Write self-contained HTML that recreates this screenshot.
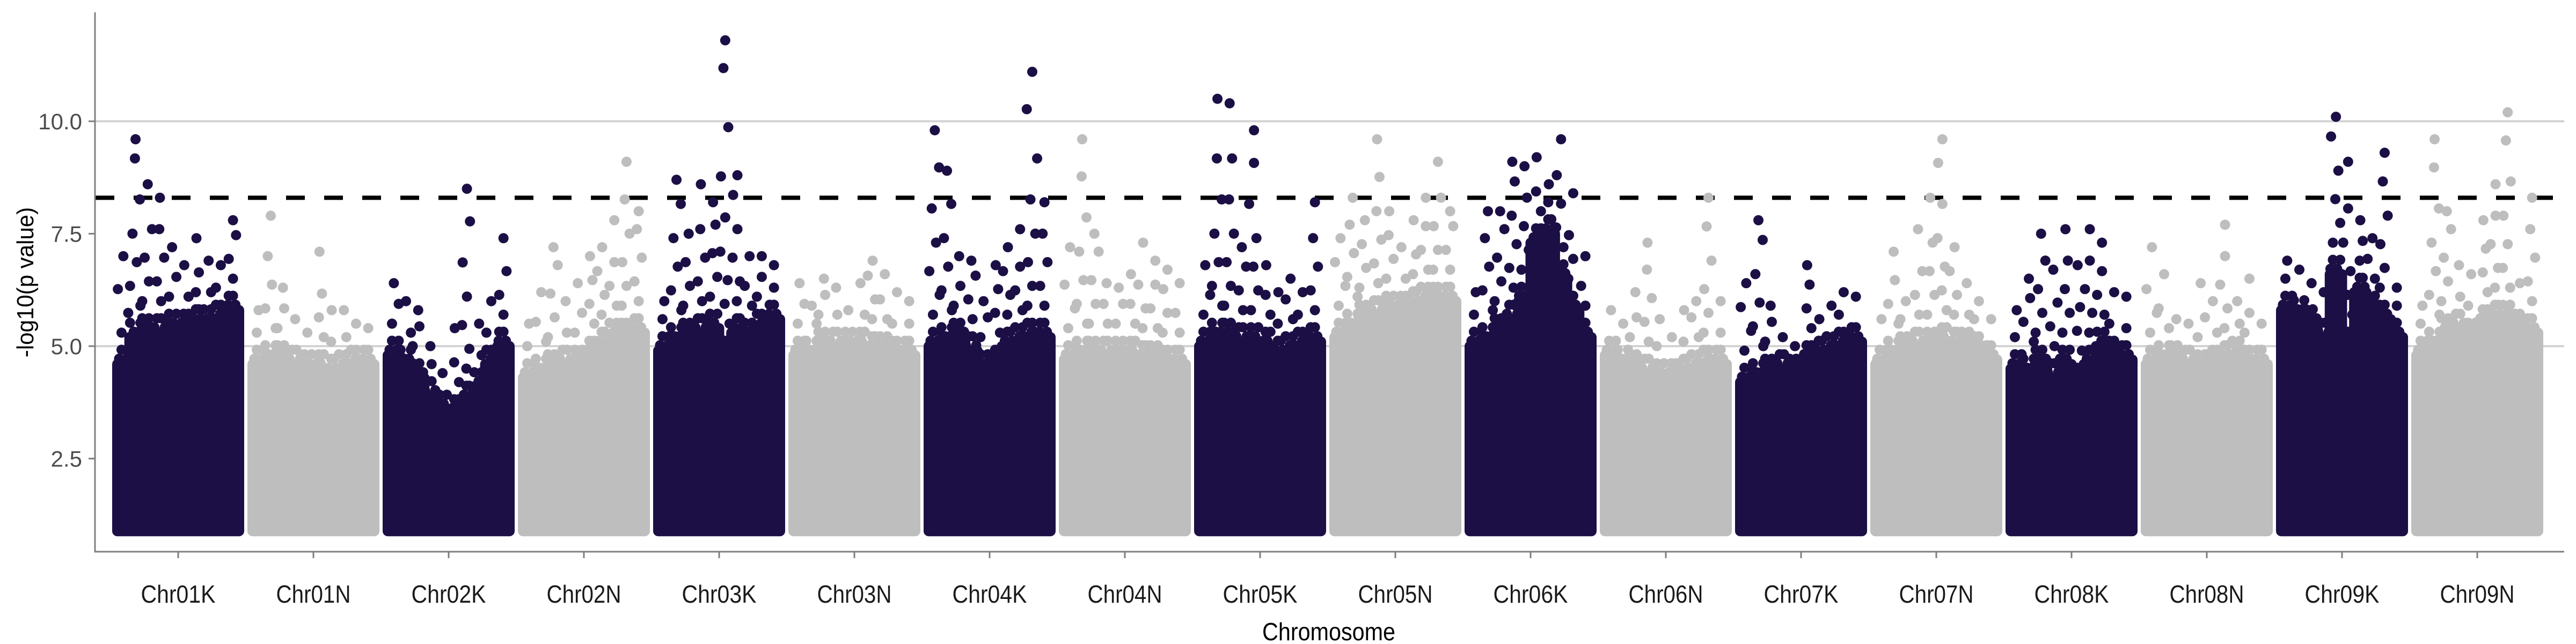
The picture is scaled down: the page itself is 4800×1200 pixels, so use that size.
<!DOCTYPE html>
<html>
<head>
<meta charset="utf-8">
<style>
html,body{margin:0;padding:0;background:#fff;}
svg{display:block;}
text{font-family:"Liberation Sans",Arial,sans-serif;}
</style>
</head>
<body>
<svg id="chart" width="4800" height="1200" viewBox="0 0 4800 1200" xmlns="http://www.w3.org/2000/svg">
  <g id="grid"></g>
  <line id="thr" x1="178" x2="4778" stroke="#000" stroke-width="8" stroke-dasharray="35 36"></line>
  <g id="points"></g>
  <g id="axes"></g>
  <text x="0" y="0" transform="translate(62,526) rotate(-90)" text-anchor="middle" font-size="44" fill="#000" textLength="280" lengthAdjust="spacingAndGlyphs">-log10(p value)</text>
  <text x="2476" y="1193" text-anchor="middle" font-size="46" fill="#000" textLength="248" lengthAdjust="spacingAndGlyphs">Chromosome</text>
</svg>
<script>
const chromosomes = ["Chr01K","Chr01N","Chr02K","Chr02N","Chr03K","Chr03N","Chr04K","Chr04N","Chr05K","Chr05N","Chr06K","Chr06N","Chr07K","Chr07N","Chr08K","Chr08N","Chr09K","Chr09N"];
const solidTop = [
 [4.6,5.2,5.3,5.3,5.4,5.4,5.5,5.5,5.6,5.8],
 [4.6,4.7,4.7,4.6,4.5,4.5,4.4,4.5,4.6,4.6],
 [4.8,4.6,4.3,3.9,3.6,3.5,3.8,4.1,4.6,5.0],
 [4.3,4.4,4.5,4.6,4.6,4.8,5.0,5.2,5.2,5.3],
 [4.9,5.1,5.2,5.3,5.4,4.8,5.3,5.2,5.4,5.6],
 [4.8,4.8,5.0,5.0,5.0,5.0,4.9,4.9,4.8,4.8],
 [5.0,5.1,5.2,4.9,4.5,4.6,5.0,5.1,5.2,5.2],
 [4.7,4.8,4.8,4.8,4.8,4.8,4.7,4.7,4.6,4.6],
 [5.0,5.2,5.2,5.1,5.1,5.0,4.8,4.9,5.0,5.1],
 [5.2,5.4,5.6,5.7,5.8,5.8,5.9,6.0,6.0,6.0],
 [5.0,5.1,5.3,5.6,6.0,7.3,7.5,6.5,5.8,5.2],
 [4.8,4.6,4.5,4.4,4.3,4.3,4.4,4.5,4.6,4.6],
 [4.2,4.3,4.4,4.5,4.6,4.7,4.8,4.9,5.0,5.1],
 [4.6,4.8,4.9,5.0,5.0,5.1,5.0,5.0,4.9,4.7],
 [4.5,4.4,4.6,4.3,4.6,4.2,4.6,5.0,4.8,4.7],
 [4.6,4.7,4.7,4.6,4.5,4.6,4.7,4.8,4.6,4.6],
 [5.8,5.7,5.5,5.2,6.6,5.0,6.2,5.8,5.6,5.2],
 [4.8,5.0,5.3,5.4,5.2,5.5,5.6,5.6,5.4,5.3]
];
const peakValues = [
 [7.0,9.6,8.6,8.3,7.2,6.8,7.4,6.9,6.8,7.8],
 [5.8,7.9,6.3,5.6,5.3,7.1,5.8,5.8,5.5,5.4],
 [6.4,6.0,5.8,5.0,4.4,5.4,8.5,5.5,6.0,7.4],
 [5.5,6.2,7.2,6.0,6.4,7.0,7.2,7.8,9.1,8.0],
 [6.0,8.7,7.5,8.6,8.2,11.8,8.8,7.0,7.0,6.8],
 [6.4,5.9,6.5,6.3,5.8,6.4,6.9,6.6,6.2,6.0],
 [9.8,8.9,7.0,6.9,6.0,6.8,7.2,7.6,11.1,8.2],
 [7.2,9.6,7.5,6.4,6.3,6.6,7.3,6.9,6.7,6.4],
 [6.8,10.5,10.4,7.2,9.8,6.8,6.2,6.5,6.2,8.2],
 [7.4,8.3,7.8,9.6,8.0,7.2,7.8,8.3,9.1,8.0],
 [6.2,8.0,8.0,9.1,9.0,9.2,8.6,9.6,8.4,7.0],
 [5.8,5.5,6.2,7.3,5.6,5.2,5.8,6.0,8.3,6.0],
 [6.4,7.8,5.9,5.2,5.0,6.8,5.6,5.9,6.2,6.1],
 [5.6,7.1,6.0,7.6,8.3,9.6,7.2,6.4,6.0,5.6],
 [5.8,6.5,7.5,6.7,7.6,6.8,7.6,7.3,6.2,6.1],
 [7.2,6.6,5.6,5.5,6.4,6.0,7.7,6.0,6.5,5.5],
 [6.9,6.7,6.4,6.2,10.1,9.1,7.8,7.4,9.3,6.3],
 [5.9,9.6,8.0,6.8,6.6,7.8,8.6,10.2,6.4,8.3]
];
const yTicks = [2.5, 5.0, 7.5, 10.0];
const yTickLabels = ["2.5","5.0","7.5","10.0"];
const gridValues = [5.0, 10.0];
const threshold = 8.3;
const minValue = 1.0;

const NS = "http://www.w3.org/2000/svg";
const X0 = 209, CHR_W = 252, BAND = 246, R = 9.5;
const yScale = v => 1064 - 83.8 * v;
const xBand = i => X0 + CHR_W * i;
const colors = ["#1c0f45", "#bebebe"];
function mk(tag, attrs, parent){
  const el = document.createElementNS(NS, tag);
  for (const k in attrs) el.setAttribute(k, attrs[k]);
  parent.appendChild(el);
  return el;
}
const grid = document.getElementById("grid");
gridValues.forEach(v => {
  const l = mk("line", {x1:178, x2:4778, y1:yScale(v), y2:yScale(v), stroke:"#d3d3d3", "stroke-width":4}, grid);
  
  
});
const thr = document.getElementById("thr");
thr.setAttribute("y1", yScale(threshold));
thr.setAttribute("y2", yScale(threshold));

const pts = document.getElementById("points");
const jit = [0.15,0.75,0.35,0.9,0.05,0.6,0.25,0.85,0.45,0.7,0.1,0.5];
chromosomes.forEach((name, i) => {
  const g = mk("g", {fill: colors[i % 2]}, pts);
  
  
  const bx = xBand(i);
  const bins = solidTop[i].length;
  const bw = (BAND - 2 * R) / bins;
  const base = yScale(minValue);
  let d = "M" + (bx + R) + " " + (base + R);
  solidTop[i].forEach((v, b) => {
    d += " L" + (bx + R + b * bw) + " " + yScale(v) + " L" + (bx + R + (b + 1) * bw) + " " + yScale(v);
  });
  d += " L" + (bx + BAND - R) + " " + (base + R) + " Z";
  const body = mk("path", {d: d, stroke: colors[i % 2], "stroke-width": 2 * R, "stroke-linejoin": "round"}, g);
  
  
  solidTop[i].forEach((s, b) => {
    const p = peakValues[i][b];
    let k = 0;
    for (let v = s + 0.12; v < Math.min(p, s + 0.6) - 0.1; v += 0.2) {
      for (let m = 0; m < 2; m++) {
        const cx = bx + R + (b + jit[(k * 2 + m + b) % jit.length]) * bw;
        const c = mk("circle", {cx: cx, cy: yScale(v), r: R}, g);
        
        
      }
      k++;
    }
    for (let v = s + 0.7; v < p - 0.3; v += 0.3 + 0.2 * (v - s)) {
      const cx = bx + R + (b + jit[(k + b) % jit.length]) * bw;
      const c = mk("circle", {cx: cx, cy: yScale(v), r: R}, g);
      
      
      k++;
    }
    const top = mk("circle", {cx: bx + R + (b + 0.5) * bw, cy: yScale(p), r: R}, g);
    
    
  });
});

const axes = document.getElementById("axes");
const ya = mk("line", {x1:177, x2:177, y1:23, y2:1029, stroke:"#7f7f7f", "stroke-width":3}, axes);


const xa = mk("line", {x1:176, x2:4778, y1:1028, y2:1028, stroke:"#7f7f7f", "stroke-width":3}, axes);


yTicks.forEach((v, j) => {
  const t = mk("line", {x1:165, x2:177, y1:yScale(v), y2:yScale(v), stroke:"#7f7f7f", "stroke-width":3}, axes);
  
  
  const tx = mk("text", {x:153, y:yScale(v) + 15, "text-anchor":"end", "font-size":42, fill:"#4d4d4d"}, axes);
  tx.textContent = yTickLabels[j];
  
  
});
chromosomes.forEach((name, i) => {
  const cx = xBand(i) + BAND / 2;
  const t = mk("line", {x1:cx, x2:cx, y1:1028, y2:1040, stroke:"#7f7f7f", "stroke-width":3}, axes);
  
  
  const tx = mk("text", {x:cx, y:1123, "text-anchor":"middle", "font-size":46, fill:"#1a1a1a", textLength:139, lengthAdjust:"spacingAndGlyphs"}, axes);
  tx.textContent = name;
  
  
});
</script>
</body>
</html>
